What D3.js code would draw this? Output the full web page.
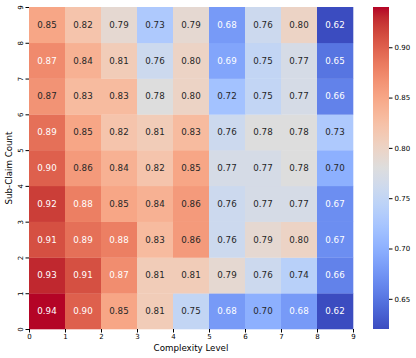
<!DOCTYPE html>
<html><head><meta charset="utf-8">
<script src="https://cdn.jsdelivr.net/npm/d3@7"></script>
<style>body{margin:0;background:#fff}svg{display:block;font-family:"DejaVu Sans",sans-serif}</style>
</head><body><svg id="c" width="416" height="358"></svg>
<script>
const complexityLevels = [0,1,2,3,4,5,6,7,8];
const subClaimCounts = [0,1,2,3,4,5,6,7,8];
// values[row] where row index = sub-claim count (0 = bottom)
const row0 = [0.94,0.90,0.85,0.81,0.75,0.68,0.70,0.68,0.62];
const row1 = [0.93,0.91,0.87,0.81,0.81,0.79,0.76,0.74,0.66];
const row2 = [0.91,0.89,0.88,0.83,0.86,0.76,0.79,0.80,0.67];
const row3 = [0.92,0.88,0.85,0.84,0.86,0.76,0.77,0.77,0.67];
const row4 = [0.90,0.86,0.84,0.82,0.85,0.77,0.77,0.78,0.70];
const row5 = [0.89,0.85,0.82,0.81,0.83,0.76,0.78,0.78,0.73];
const row6 = [0.8652,0.83,0.83,0.78,0.80,0.72,0.75,0.77,0.66];
const row7 = [0.872,0.84,0.81,0.76,0.80,0.69,0.75,0.77,0.65];
const row8 = [0.85,0.82,0.79,0.73,0.79,0.68,0.76,0.80,0.62];
const rows = [row0,row1,row2,row3,row4,row5,row6,row7,row8];
const xTicks = [0,1,2,3,4,5,6,7,8,9];
const yTicks = [0,1,2,3,4,5,6,7,8,9];
const cbTicks = [0.65,0.70,0.75,0.80,0.85,0.90];
const vmin = 0.62, vmax = 0.94;

const cw = [[59,76,192],[68,90,204],[77,104,215],[87,117,225],[98,130,234],[108,142,241],[119,154,247],[130,165,251],[141,176,254],[152,185,255],[163,194,255],[174,201,253],[184,208,249],[194,213,244],[204,217,238],[213,219,230],[221,221,221],[229,216,209],[236,211,197],[241,204,184],[245,196,172],[247,187,159],[247,177,147],[247,166,134],[244,154,123],[241,141,111],[236,127,99],[229,112,88],[222,96,77],[213,80,66],[203,62,56],[192,40,47],[180,4,38]];
const cmap = d3.scaleLinear().domain(cw.map((_,i)=>i/(cw.length-1))).range(cw.map(c=>`rgb(${c[0]},${c[1]},${c[2]})`)).interpolate(d3.interpolateRgb).clamp(true);
const color = v => cmap((v-vmin)/(vmax-vmin));

const svg = d3.select("#c");
const L=29,R=353,T=7,B=329;
const x = d3.scaleLinear().domain([0,9]).range([L,R]);
const y = d3.scaleLinear().domain([0,9]).range([B,T]);

function lum(c){const r=d3.rgb(c);const f=v=>{v/=255;return v<=0.03928?v/12.92:Math.pow((v+0.055)/1.055,2.4)};return 0.2126*f(r.r)+0.7152*f(r.g)+0.0722*f(r.b);}

const cells=[];
rows.forEach((r,ri)=>r.forEach((v,ci)=>cells.push({r:subClaimCounts[ri],c:complexityLevels[ci],v})));
const g=svg.append("g");
g.selectAll("rect").data(cells).enter().append("rect")
 .attr("x",d=>x(d.c)).attr("y",d=>y(d.r+1)).attr("width",d=>x(d.c+1)-x(d.c)+0.3).attr("height",d=>y(d.r)-y(d.r+1)+0.3)
 .attr("fill",d=>color(d.v));
g.selectAll("text").data(cells).enter().append("text")
 .attr("x",d=>x(d.c+0.5)).attr("y",d=>y(d.r+0.5)).attr("dy","0.35em").attr("text-anchor","middle")
 .attr("font-size","8.7px").attr("fill",d=>lum(color(d.v))>0.408?"#262626":"#ffffff")
 .text(d=>d.v.toFixed(2));

const xa = svg.append("g").attr("transform",`translate(0,${B})`).call(d3.axisBottom(x).tickValues(xTicks).tickFormat(d3.format("d")).tickSize(3.5).tickPadding(1.5));
xa.select(".domain").remove();
xa.selectAll("text").attr("font-size","7px").attr("fill","#000").style("font-family","DejaVu Sans");
const ya = svg.append("g").attr("transform",`translate(${L},0)`).call(d3.axisLeft(y).tickValues(yTicks).tickFormat(d3.format("d")).tickSize(3.5).tickPadding(2));
ya.select(".domain").remove();
ya.selectAll("text").attr("font-size","7px").attr("fill","#000").style("font-family","DejaVu Sans")
  .attr("text-anchor","middle").attr("dy",null).attr("x",null)
  .attr("transform",function(d){return `translate(-8,0) rotate(-90)`;});
ya.selectAll(".tick text").attr("dy","0.35em");

svg.append("text").attr("x",(L+R)/2).attr("y",351).attr("text-anchor","middle").attr("font-size","8.7px").text("Complexity Level");
svg.append("text").attr("transform",`translate(11.5,${(T+B)/2}) rotate(-90)`).attr("text-anchor","middle").attr("font-size","8.7px").text("Sub-Claim Count");

// colorbar
const CL=373,CR=389;
const cy = d3.scaleLinear().domain([vmin,vmax]).range([B,T]);
const defs=svg.append("defs");
const grad=defs.append("linearGradient").attr("id","cbg").attr("x1","0").attr("y1","1").attr("x2","0").attr("y2","0");
d3.range(0,1.0001,1/64).forEach(t=>grad.append("stop").attr("offset",t).attr("stop-color",cmap(t)));
svg.append("rect").attr("x",CL).attr("y",T).attr("width",CR-CL).attr("height",B-T).attr("fill","url(#cbg)");
const ca=svg.append("g").attr("transform",`translate(${CR},0)`).call(d3.axisRight(cy).tickValues(cbTicks).tickFormat(d3.format(".2f")).tickSize(3.5).tickPadding(2));
ca.select(".domain").remove();
ca.selectAll("text").attr("font-size","7px").attr("fill","#000").style("font-family","DejaVu Sans");
</script></body></html>
